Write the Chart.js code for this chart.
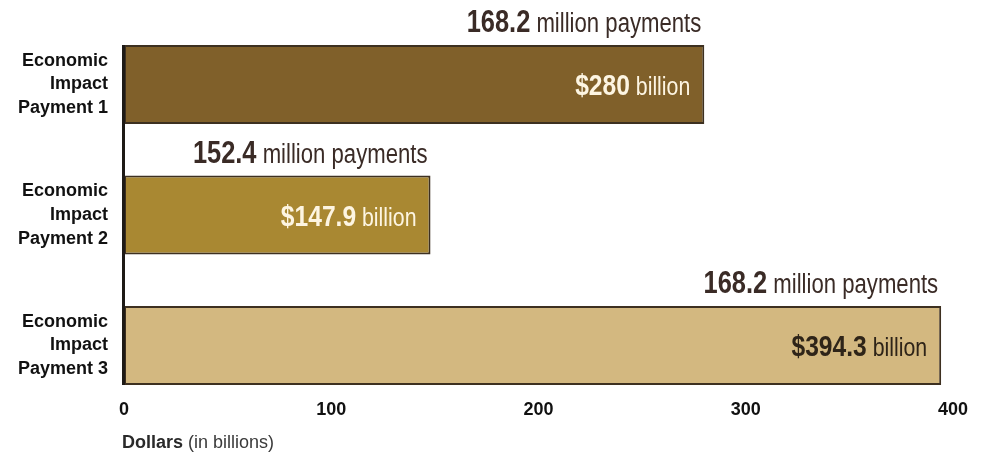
<!DOCTYPE html>
<html>
<head>
<meta charset="utf-8">
<title>Economic Impact Payments</title>
<script src="https://cdn.jsdelivr.net/npm/chart.js@4"></script>
<style>
body{margin:0;background:#fff}
#wrap{width:983px;height:458px;position:relative}
</style>
</head>
<body>
<div id="wrap"><canvas id="eipChart"></canvas></div>
<script>

// data
let categories=[
["Economic","Impact","Payment 1"],
["Economic","Impact","Payment 2"],
["Economic","Impact","Payment 3"]
]
let amountsBillions=[280,147.9,394.3]
let paymentsMillions=[168.2,152.4,168.2]
let xTickValues=[0,100,200,300,400]

let barColors=["#80602a","#a98832","#d3b880"]
let amountTextColors=["#fdf5e2","#fdf5e2","#2e2418"]

let FONT="'Liberation Sans', Arial, sans-serif"
let NARROW=0.82

// draws "bold number" + " regular words", condensed, right aligned at xRight
function drawMixed(ctx,parts,xRight,yBase,color){
ctx.save()
let total=0
parts.forEach(p=>{
ctx.font=p.font
p.w=ctx.measureText(p.text).width
total+=p.w
})
ctx.translate(xRight-total*NARROW,yBase)
ctx.scale(NARROW,1)
ctx.fillStyle=color
ctx.textBaseline="alphabetic"
ctx.textAlign="left"
let x=0
parts.forEach(p=>{
ctx.font=p.font
ctx.fillText(p.text,x,0)
x+=p.w
})
ctx.restore()
}

let barLabels={
id:"barLabels",
afterDatasetsDraw(chart){
let ctx=chart.ctx
let meta=chart.getDatasetMeta(0)
let xScale=chart.scales.x

meta.data.forEach((bar,i)=>{
let top=bar.y-bar.height/2

drawMixed(ctx,[
{text:String(paymentsMillions[i]),font:"bold 31px "+FONT},
{text:" million payments",font:"27px "+FONT}
],bar.x-3,top-13,"#3a2b26")

drawMixed(ctx,[
{text:"$"+amountsBillions[i],font:"bold 30px "+FONT},
{text:" billion",font:"26px "+FONT}
],bar.x-14,bar.y+10.5,amountTextColors[i])
})

// vertical axis line, spans the bars only
let first=meta.data[0]
let last=meta.data[meta.data.length-1]
let x0=xScale.getPixelForValue(0)
ctx.save()
ctx.strokeStyle="#1e1a16"
ctx.lineWidth=3
ctx.beginPath()
ctx.moveTo(x0-0.5,first.y-first.height/2)
ctx.lineTo(x0-0.5,last.y+last.height/2)
ctx.stroke()

// axis title with mixed weights
ctx.fillStyle="#2a2a2a"
ctx.textBaseline="alphabetic"
ctx.textAlign="left"
ctx.font="bold 18px "+FONT
let tx=chart.chartArea.left-2
ctx.fillText("Dollars",tx,448)
let w=ctx.measureText("Dollars").width
ctx.font="18px "+FONT
ctx.fillStyle="#3a3a3a"
ctx.fillText(" (in billions)",tx+w,448)
ctx.restore()
}
}

new Chart(document.getElementById("eipChart"),{

type:"bar",

data:{
labels:categories,
datasets:[{
data:amountsBillions,
backgroundColor:barColors,
borderColor:"#3d3020",
borderWidth:2,
borderSkipped:false,
categoryPercentage:1,
barPercentage:0.605,
clip:false
}]
},

options:{
indexAxis:"y",
responsive:true,
maintainAspectRatio:false,
animation:false,
layout:{padding:{top:84.5,right:30,bottom:0,left:0}},
plugins:{
legend:{display:false},
tooltip:{enabled:false}
},
scales:{
y:{
type:"category",
offset:false,
grid:{display:false,drawTicks:false},
border:{display:false},
ticks:{
color:"#111",
padding:16,
font:{family:FONT,size:18,weight:"bold",lineHeight:1.33}
},
afterFit(scale){scale.width=124}
},
x:{
min:xTickValues[0],
max:xTickValues[xTickValues.length-1],
afterBuildTicks(scale){scale.ticks=xTickValues.map(v=>({value:v}))},
grid:{display:false,drawTicks:false},
border:{display:false},
ticks:{
color:"#111",
padding:54,
font:{family:FONT,size:18,weight:"bold"}
},
afterFit(scale){
scale.height=112.5
scale.paddingLeft=0
scale.paddingRight=0
}
}
}
},

plugins:[barLabels]

})

</script>
</body>
</html>
